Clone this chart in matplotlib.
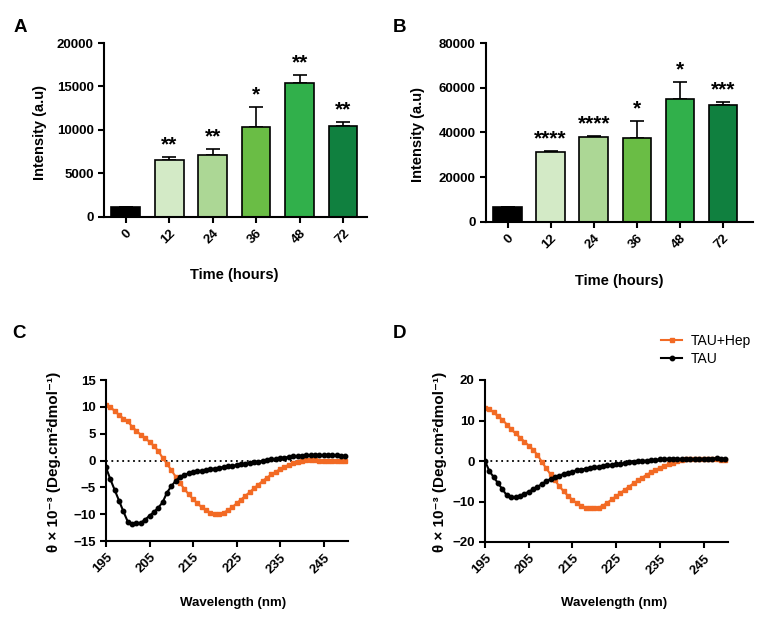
import numpy as np
import matplotlib
matplotlib.use("Agg")
from matplotlib import pyplot as plt

plt.rcParams["font.family"] = ["Liberation Sans", "DejaVu Sans"]
plt.rcParams["font.weight"] = "bold"

# --- bar data (panels A and B) ---
time_labels = ["0", "12", "24", "36", "48", "72"]
bar_colors = ["#000000", "#d3eac6", "#acd795", "#6abd45", "#31b04b", "#10803f"]

a_means = [1100, 6500, 7100, 10300, 15400, 10500]
a_errs = [0, 350, 750, 2400, 900, 450]
a_stars = ["", "**", "**", "*", "**", "**"]

b_means = [6500, 31500, 38200, 37600, 55000, 52500]
b_errs = [0, 100, 200, 7600, 7600, 1000]
b_stars = ["", "****", "****", "*", "*", "***"]

# --- CD spectra (panels C and D), 195-250 nm ---
wavelength = list(range(195, 251))

c_hep = [10.3, 10.0, 9.2, 8.5, 7.8, 7.3, 6.3, 5.5, 4.8, 4.1,
         3.5, 2.7, 1.8, 0.5, -0.6, -1.8, -3.0, -4.2, -5.3, -6.3,
         -7.2, -8.0, -8.7, -9.3, -9.7, -9.9, -9.9, -9.7, -9.3, -8.7,
         -8.0, -7.3, -6.6, -5.9, -5.2, -4.5, -3.8, -3.2, -2.6, -2.1,
         -1.6, -1.2, -0.8, -0.5, -0.2, 0.0, 0.05, 0.1, 0.05, 0.0,
         0.0, -0.05, -0.05, -0.1, -0.1, -0.1]
c_tau = [-1.3, -3.5, -5.5, -7.5, -9.5, -11.4, -11.8, -11.7, -11.6, -11.0,
         -10.3, -9.6, -8.8, -7.8, -6.0, -4.8, -3.8, -3.1, -2.7, -2.4,
         -2.2, -2.0, -1.9, -1.75, -1.6, -1.5, -1.35, -1.2, -1.1, -1.0,
         -0.85, -0.7, -0.6, -0.45, -0.3, -0.2, -0.05, 0.1, 0.2, 0.3,
         0.4, 0.55, 0.65, 0.75, 0.85, 0.9, 0.95, 1.0, 1.0, 1.0,
         1.0, 1.0, 1.0, 1.0, 0.9, 0.75]

d_hep = [13.2, 12.8, 12.0, 11.0, 10.2, 9.0, 7.8, 6.8, 5.8, 4.8,
         3.8, 2.8, 1.5, -0.2, -1.8, -3.3, -4.8, -6.2, -7.5, -8.6,
         -9.6, -10.4, -11.0, -11.5, -11.7, -11.7, -11.5, -11.0, -10.3, -9.5,
         -8.7, -7.9, -7.1, -6.3, -5.5, -4.8, -4.1, -3.4, -2.8, -2.2,
         -1.7, -1.2, -0.8, -0.4, -0.1, 0.2, 0.4, 0.5, 0.5, 0.5,
         0.5, 0.45, 0.4, 0.4, 0.35, 0.3]
d_tau = [0.0, -2.5, -4.0, -5.5, -7.0, -8.5, -9.0, -9.0, -8.6, -8.1,
         -7.6, -7.0, -6.4, -5.7, -5.0, -4.5, -4.0, -3.6, -3.2, -2.9,
         -2.6, -2.3, -2.1, -1.9, -1.7, -1.55, -1.4, -1.25, -1.1, -0.95,
         -0.8, -0.65, -0.5, -0.35, -0.2, -0.1, 0.0, 0.1, 0.2, 0.3,
         0.4, 0.5, 0.55, 0.6, 0.55, 0.5, 0.5, 0.5, 0.5, 0.5,
         0.55, 0.55, 0.6, 0.7, 0.6, 0.5]

W, H = 771, 638
fig = plt.figure(figsize=(W / 100, H / 100), dpi=100)


def rect(x0, y0, x1, y1):
    # pixel box (top-left origin) -> figure fraction
    return [x0 / W, 1 - y1 / H, (x1 - x0) / W, (y1 - y0) / H]


def ftext(x, y, s, **kw):
    fig.text(x / W, 1 - y / H, s, **kw)


def style(ax):
    for side in ["top", "right"]:
        ax.spines[side].set_visible(False)
    for side in ["left", "bottom"]:
        ax.spines[side].set_linewidth(1.5)
    ax.tick_params(width=1.5, length=4, labelsize=9.5)


def bars(ax, means, errs, stars, ymax, step, xmax):
    x = np.arange(len(means))
    ax.bar(x, means, width=0.66, color=bar_colors, edgecolor="black", linewidth=1.2, zorder=2)
    ax.errorbar(x, means, yerr=[np.zeros(len(errs)), errs], fmt="none",
                ecolor="black", elinewidth=1.2, capsize=5, capthick=1.2, zorder=1)
    for xi, m, e, s in zip(x, means, errs, stars):
        if s:
            ax.text(xi, m + e + ymax * 0.015, s, ha="center", va="bottom", fontsize=15)
    ax.set_xlim(-0.5, xmax)
    ax.set_ylim(0, ymax)
    ax.set_yticks(np.arange(0, ymax + 1, step))
    ax.set_xticks(x)
    ax.set_xticklabels(time_labels, rotation=45, ha="right", rotation_mode="anchor")
    style(ax)


ax_a = fig.add_axes(rect(104, 43, 367, 217))
bars(ax_a, a_means, a_errs, a_stars, 20000, 5000, 5.55)
ax_b = fig.add_axes(rect(486, 43, 753, 222))
bars(ax_b, b_means, b_errs, b_stars, 80000, 20000, 5.7)

orange = "#f26a24"


def spectra(ax, hep, tau, ylim, step):
    ax.axhline(0, color="black", linestyle=(0, (1, 2)), linewidth=1.3, zorder=1)
    ax.plot(wavelength, hep, color=orange, marker="s", markersize=3.5, linewidth=1.5, label="TAU+Hep")
    ax.plot(wavelength, tau, color="black", marker="o", markersize=3.2, linewidth=1.5, label="TAU")
    ax.set_xlim(195, 250.6)
    ax.set_ylim(-ylim, ylim)
    ax.set_yticks(np.arange(-ylim, ylim + 1, step))
    ax.set_xticks(range(195, 250, 10))
    plt.setp(ax.get_xticklabels(), rotation=45, ha="right", rotation_mode="anchor")
    style(ax)


ax_c = fig.add_axes(rect(106, 380, 348, 541))
spectra(ax_c, c_hep, c_tau, 15, 5)
ax_d = fig.add_axes(rect(485, 380, 728, 542))
spectra(ax_d, d_hep, d_tau, 20, 10)
ax_d.legend(loc="upper right", bbox_to_anchor=(1.145, 1.36), frameon=False,
            prop={"weight": "normal", "size": 10}, handlelength=1.5,
            labelspacing=0.3, handletextpad=0.6)

# axis titles
ylab_cd = "θ × 10⁻³ (Deg.cm²dmol⁻¹)"
ftext(40, 133, "Intensity (a.u)", rotation=90, ha="center", va="center", fontsize=10.5)
ftext(418, 134, "Intensity (a.u)", rotation=90, ha="center", va="center", fontsize=10.5)
ftext(234, 275, "Time (hours)", ha="center", va="center", fontsize=10.5)
ftext(619, 281, "Time (hours)", ha="center", va="center", fontsize=10.5)
ftext(54, 462, ylab_cd, rotation=90, ha="center", va="center", fontsize=11)
ftext(440, 462, ylab_cd, rotation=90, ha="center", va="center", fontsize=11)
ftext(233, 603, "Wavelength (nm)", ha="center", va="center", fontsize=9.5)
ftext(614, 603, "Wavelength (nm)", ha="center", va="center", fontsize=9.5)

# panel letters
for (px, py, letter) in [(20, 27, "A"), (399, 27, "B"), (19, 334, "C"), (399, 334, "D")]:
    ftext(px, py, letter, ha="center", va="center", fontsize=13.5)

fig.savefig("out.png", dpi=100)
